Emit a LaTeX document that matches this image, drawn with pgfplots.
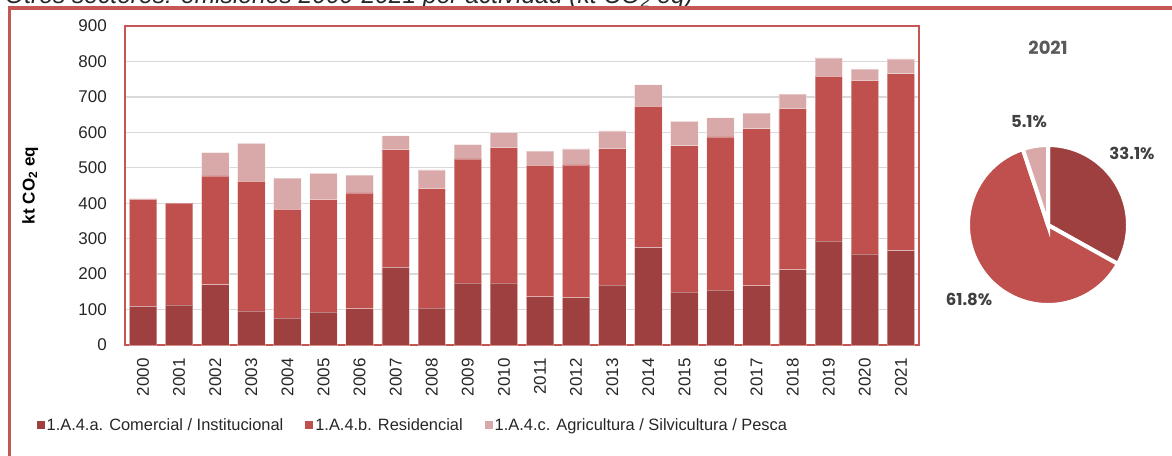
\documentclass[border=0pt]{standalone}
\usepackage{pgfplots}
\pgfplotsset{compat=1.18}
\usepackage{fontspec}
\setmainfont{Liberation Sans}
\newfontfamily\pop{Poppins}
\definecolor{cDark}{RGB}{158,64,63}
\definecolor{cMid}{RGB}{192,80,77}
\definecolor{cLight}{RGB}{217,169,169}
\definecolor{framered}{RGB}{197,86,83}
\definecolor{gridgray}{RGB}{217,217,217}
\definecolor{txt}{RGB}{38,38,38}
\definecolor{pietxt}{RGB}{64,64,64}
\begin{document}
\begin{tikzpicture}
\path[use as bounding box] (0pt,0pt) rectangle (1172pt,455pt);
\node[anchor=base west, inner sep=0pt, font=\fontsize{24.6}{28}\selectfont\itshape, text=txt] at (5pt,451.5pt) {Otros sectores: emisiones 2000-2021 por actividad (kt CO\textsubscript{2} eq)};
\draw[framered, line width=3.5pt] (9.5pt,-10pt) -- (9.5pt,447pt) -- (1185pt,447pt);
\begin{axis}[
  at={(125pt,110pt)}, anchor=south west,
  scale only axis, width=794pt, height=319pt,
  xmin=-0.5, xmax=21.5, ymin=0, ymax=900,
  ytick={0,100,...,900},
  xtick={0,...,21},
  xticklabels={2000,2001,2002,2003,2004,2005,2006,2007,2008,2009,2010,2011,2012,2013,2014,2015,2016,2017,2018,2019,2020,2021},
  major tick length=0pt,
  tick label style={font=\fontsize{17}{20}\selectfont, text=txt},
  /pgf/number format/assume math mode=true,
  yticklabel style={inner sep=0pt, xshift=-18pt},
  xticklabel style={yshift=-13pt, rotate=90, anchor=east, inner sep=0pt},
  ymajorgrids, grid style={draw=gridgray, line width=1.4pt},
  axis line style={draw=framered, line width=2.6pt},
  ybar stacked, bar width=0.76,
  ylabel={\bfseries kt CO\textsubscript{2} eq},
  every axis y label/.style={at={(axis description cs:-0.1195,0.5)}, rotate=90, anchor=center, font=\fontsize{17}{20}\selectfont, text=black},
  legend columns=3,
  legend style={at={(axis description cs:-0.1115,-0.2508)}, anchor=west, draw=none, fill=none,
    font=\fontsize{16.4}{19}\selectfont, text=txt, inner sep=0pt,
    nodes={inner xsep=1pt, inner ysep=1pt},
    /tikz/every odd column/.append style={column sep=1pt},
    /tikz/every even column/.append style={column sep=21pt}},
  legend image code/.code={\path[#1, draw=none] (0pt,-4pt) rectangle (8pt,4pt);},
]
\addplot[fill=cDark, draw=white, draw opacity=0.35, line width=0.8pt] coordinates {
(0,109) (1,113) (2,170) (3,96) (4,76) (5,93) (6,102) (7,219) (8,104) (9,175) (10,175)
(11,136) (12,133) (13,169) (14,275) (15,149) (16,155) (17,167) (18,212) (19,293) (20,257) (21,266)};
\addlegendentry{1.A.4.a. Comercial / Institucional}
\addplot[fill=cMid, draw=white, draw opacity=0.35, line width=0.8pt] coordinates {
(0,302) (1,287) (2,307) (3,366) (4,307) (5,317) (6,327) (7,332) (8,337) (9,350) (10,382)
(11,371) (12,375) (13,385) (14,398) (15,413) (16,432) (17,443) (18,455) (19,465) (20,489) (21,499)};
\addlegendentry{1.A.4.b. Residencial}
\addplot[fill=cLight, draw=white, draw opacity=0.35, line width=0.8pt] coordinates {
(0,2) (1,1) (2,66) (3,107) (4,88) (5,74) (6,50) (7,39) (8,53) (9,40) (10,42)
(11,40) (12,45) (13,50) (14,61) (15,69) (16,54) (17,44) (18,41) (19,52) (20,32) (21,42)};
\addlegendentry{1.A.4.c. Agricultura / Silvicultura / Pesca}
\end{axis}
% pie 2021
\pgfmathsetmacro{\aA}{90}
\pgfmathsetmacro{\aB}{90-3.6*33.1}
\pgfmathsetmacro{\aC}{\aB-3.6*61.8}
\pgfmathsetmacro{\aD}{\aC-3.6*5.1}
\begin{scope}[shift={(1048pt,230pt)}]
\path[fill=cDark, draw=white, line width=4pt] (0,0) -- (\aA:80pt) arc[start angle=\aA, end angle=\aB, radius=80pt] -- cycle;
\path[fill=cMid, draw=white, line width=4pt] (0,0) -- (\aB:80pt) arc[start angle=\aB, end angle=\aC, radius=80pt] -- cycle;
\path[fill=cLight, draw=white, line width=4pt] (0,0) -- (\aC:80pt) arc[start angle=\aC, end angle=\aD, radius=80pt] -- cycle;
\end{scope}
\node[font=\pop\bfseries\fontsize{18}{21}\selectfont, text=black!65] at (1048pt,407pt) {2021};
\node[font=\pop\bfseries\fontsize{16.5}{20}\selectfont, text=pietxt] at (1029pt,333pt) {5.1\%};
\node[font=\pop\bfseries\fontsize{16.5}{20}\selectfont, text=pietxt] at (1132pt,302pt) {33.1\%};
\node[font=\pop\bfseries\fontsize{16.5}{20}\selectfont, text=pietxt] at (969pt,156pt) {61.8\%};
\end{tikzpicture}
\end{document}
